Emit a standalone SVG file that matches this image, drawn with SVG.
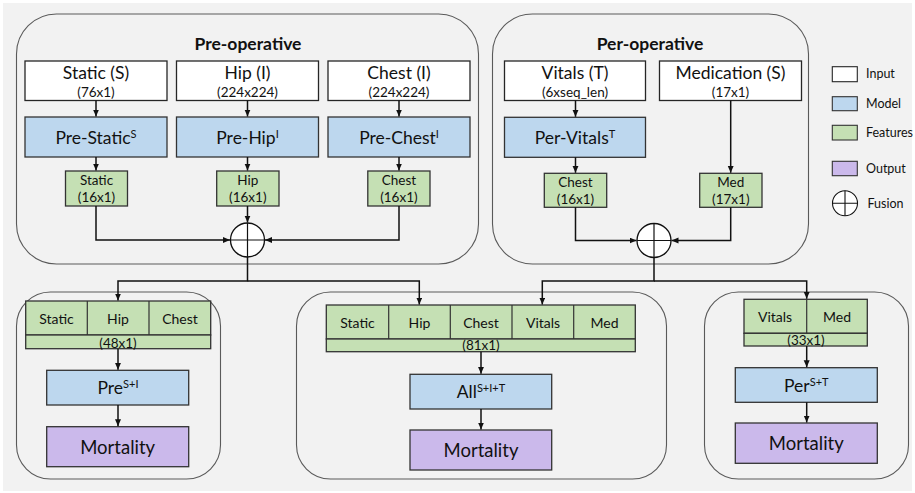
<svg xmlns="http://www.w3.org/2000/svg" width="915" height="493" viewBox="0 0 915 493">
<defs>
<marker id="ah" markerUnits="userSpaceOnUse" markerWidth="8" markerHeight="7" refX="7" refY="3" orient="auto">
<path d="M0,0 L7,3 L0,6 z" fill="#111"/>
</marker>
<style>
text{font-family:Lato,"Liberation Sans",sans-serif;fill:#111;text-anchor:middle}
.panel{fill:none;stroke:#5a5a5a;stroke-width:1.1}
.inp{fill:#fff;stroke:#262626;stroke-width:1.3}
.mod{fill:#bdd7ee;stroke:#333;stroke-width:1.3}
.feat{fill:#c5e0b4;stroke:#333;stroke-width:1.3}
.out{fill:#cbb9eb;stroke:#333;stroke-width:1.3}
.fus{fill:#fff;stroke:#111;stroke-width:1.3}
.cross{stroke:#111;stroke-width:1.2}
.big{font-size:17.5px}
.mort{font-size:18.5px}
.title{font-size:17.5px;font-weight:bold}
.dim{font-size:13.5px}
.ft{font-size:13.5px}
.cell{font-size:14px}
.leg{font-size:12.5px;text-anchor:start}
.sup{font-size:11px}
.conn path{fill:none;stroke:#111;stroke-width:1.5}
</style>
</defs>
<rect x="3" y="3" width="909" height="488" fill="#f2f2f2"/>

<g id="panel-pre"><rect class="panel" x="16.5" y="14" width="462" height="250" rx="40"/><text class="title" x="248" y="50">Pre-operative</text></g>
<g id="panel-per"><rect class="panel" x="492.5" y="14" width="316" height="250" rx="40"/><text class="title" x="650" y="50">Per-operative</text></g>
<g id="panel-pre-fused"><rect class="panel" x="16.5" y="292" width="204" height="187" rx="34"/></g>
<g id="panel-all-fused"><rect class="panel" x="296.5" y="292" width="370" height="187" rx="34"/></g>
<g id="panel-per-fused"><rect class="panel" x="704.5" y="292" width="204" height="187" rx="34"/></g>

<g id="in-static"><rect class="inp" x="25" y="61" width="142" height="39.5"/><text class="big" x="96" y="79">Static (S)</text><text class="dim" x="96" y="97">(76x1)</text></g>
<g id="in-hip"><rect class="inp" x="176.5" y="61" width="142" height="39.5"/><text class="big" x="247.5" y="79">Hip (I)</text><text class="dim" x="247.5" y="97">(224x224)</text></g>
<g id="in-chest"><rect class="inp" x="328" y="61" width="142" height="39.5"/><text class="big" x="399" y="79">Chest (I)</text><text class="dim" x="399" y="97">(224x224)</text></g>
<g id="in-vitals"><rect class="inp" x="504.5" y="61" width="141" height="39.5"/><text class="big" x="575" y="79">Vitals (T)</text><text class="dim" x="575" y="97">(6xseq_len)</text></g>
<g id="in-med"><rect class="inp" x="659.5" y="61" width="142" height="39.5"/><text class="big" x="730.5" y="79">Medication (S)</text><text class="dim" x="730.5" y="97">(17x1)</text></g>

<g id="m-prestatic"><rect class="mod" x="25" y="117" width="142" height="40"/><text class="big" x="96" y="143.5">Pre-Static<tspan class="sup" dy="-6">S</tspan></text></g>
<g id="m-prehip"><rect class="mod" x="176.5" y="117" width="142" height="40"/><text class="big" x="247.5" y="143.5">Pre-Hip<tspan class="sup" dy="-6">I</tspan></text></g>
<g id="m-prechest"><rect class="mod" x="328" y="117" width="142" height="40"/><text class="big" x="399" y="143.5">Pre-Chest<tspan class="sup" dy="-6">I</tspan></text></g>
<g id="m-pervitals"><rect class="mod" x="504.5" y="117.3" width="141" height="40"/><text class="big" x="575" y="143.8">Per-Vitals<tspan class="sup" dy="-6">T</tspan></text></g>

<g id="f-static"><rect class="feat" x="65.5" y="171" width="62" height="35"/><text class="ft" x="96.5" y="184.5">Static</text><text class="ft" x="96.5" y="202.3">(16x1)</text></g>
<g id="f-hip"><rect class="feat" x="216.7" y="171" width="62.3" height="35"/><text class="ft" x="247.8" y="184.5">Hip</text><text class="ft" x="247.8" y="202.3">(16x1)</text></g>
<g id="f-chest"><rect class="feat" x="367.8" y="171" width="62.2" height="35"/><text class="ft" x="398.9" y="184.5">Chest</text><text class="ft" x="398.9" y="202.3">(16x1)</text></g>
<g id="f-vchest"><rect class="feat" x="544.3" y="173.3" width="62.4" height="34"/><text class="ft" x="575.5" y="186.5">Chest</text><text class="ft" x="575.5" y="204.3">(16x1)</text></g>
<g id="f-med"><rect class="feat" x="699.7" y="173.3" width="62.3" height="34"/><text class="ft" x="730.8" y="186.5">Med</text><text class="ft" x="730.8" y="204.3">(17x1)</text></g>

<g id="fusion-pre"><circle class="fus" cx="247.5" cy="240" r="17"/><path class="cross" d="M230.5 240H264.5M247.5 223V257"/></g>
<g id="fusion-per"><circle class="fus" cx="654" cy="240.5" r="17"/><path class="cross" d="M637 240.5H671M654 223.5V257.5"/></g>

<g id="fused-pre">
<rect class="feat" x="25.7" y="301" width="185" height="34"/><rect class="feat" x="25.7" y="335" width="185" height="13.7"/>
<path class="cross" d="M87.3 301V335M149 301V335" style="stroke:#333"/>
<text class="cell" x="56.5" y="323.5">Static</text><text class="cell" x="118" y="323.5">Hip</text><text class="cell" x="180" y="323.5">Chest</text>
<text class="ft" x="118" y="347.5">(48x1)</text>
</g>
<g id="model-pre"><rect class="mod" x="46.7" y="370.3" width="142" height="34.7"/><text class="big" x="118" y="394">Pre<tspan class="sup" dy="-6">S+I</tspan></text></g>
<g id="out-pre"><rect class="out" x="46.7" y="426.7" width="142" height="40"/><text class="mort" x="117.7" y="453.5">Mortality</text></g>

<g id="fused-all">
<rect class="feat" x="326.3" y="305" width="309" height="34"/><rect class="feat" x="326.3" y="339" width="309" height="12.7"/>
<path class="cross" d="M388.7 305V339M450.3 305V339M512 305V339M573.7 305V339" style="stroke:#333"/>
<text class="cell" x="357.5" y="327.5">Static</text><text class="cell" x="419.5" y="327.5">Hip</text><text class="cell" x="481" y="327.5">Chest</text><text class="cell" x="543" y="327.5">Vitals</text><text class="cell" x="604.5" y="327.5">Med</text>
<text class="ft" x="481" y="350">(81x1)</text>
</g>
<g id="model-all"><rect class="mod" x="410" y="374.3" width="141.7" height="34.7"/><text class="big" x="481" y="398.3">All<tspan class="sup" dy="-6">S+I+T</tspan></text></g>
<g id="out-all"><rect class="out" x="410" y="430" width="141.7" height="40"/><text class="mort" x="481" y="456.7">Mortality</text></g>

<g id="fused-per">
<rect class="feat" x="744" y="299.3" width="123.3" height="34"/><rect class="feat" x="744" y="333.3" width="123.3" height="12.7"/>
<path class="cross" d="M806.7 299.3V333.3" style="stroke:#333"/>
<text class="cell" x="775" y="321.5">Vitals</text><text class="cell" x="837" y="321.5">Med</text>
<text class="ft" x="806" y="344.5">(33x1)</text>
</g>
<g id="model-per"><rect class="mod" x="735.3" y="367.7" width="142" height="34.6"/><text class="big" x="806.3" y="391.5">Per<tspan class="sup" dy="-6">S+T</tspan></text></g>
<g id="out-per"><rect class="out" x="735.3" y="423" width="142" height="40.3"/><text class="mort" x="806.3" y="449.5">Mortality</text></g>

<g id="legend">
<rect class="inp" x="832.3" y="66.7" width="25" height="15" style="stroke-width:1.1"/><text class="leg" x="866" y="78">Input</text>
<rect class="mod" x="832.3" y="96.7" width="25" height="14" style="stroke-width:1.1"/><text class="leg" x="866" y="108">Model</text>
<rect class="feat" x="832.3" y="125.3" width="25" height="14.7" style="stroke-width:1.1"/><text class="leg" x="866" y="137">Features</text>
<rect class="out" x="832.3" y="161.3" width="25" height="14.4" style="stroke-width:1.1"/><text class="leg" x="866" y="173">Output</text>
<circle class="fus" cx="845" cy="203.3" r="12.5" style="stroke-width:1.1"/><path class="cross" d="M832.5 203.3H857.5M845 190.8V215.8" style="stroke-width:1.1"/><text class="leg" x="867.5" y="207.5">Fusion</text>
</g>

<g id="connectors" class="conn">
<path d="M96 100.5V116.5" marker-end="url(#ah)"/>
<path d="M247.5 100.5V116.5" marker-end="url(#ah)"/>
<path d="M399 100.5V116.5" marker-end="url(#ah)"/>
<path d="M575.5 100.5V116.8" marker-end="url(#ah)"/>
<path d="M96 157V170.5" marker-end="url(#ah)"/>
<path d="M247.5 157V170.5" marker-end="url(#ah)"/>
<path d="M399 157V170.5" marker-end="url(#ah)"/>
<path d="M575.5 157.3V172.8" marker-end="url(#ah)"/>
<path d="M730.7 100.5V172.8" marker-end="url(#ah)"/>
<path d="M96 206V240H230" marker-end="url(#ah)"/>
<path d="M247.5 206V222.5" marker-end="url(#ah)"/>
<path d="M399 206V240H265" marker-end="url(#ah)"/>
<path d="M575.5 207.3V240.5H636.5" marker-end="url(#ah)"/>
<path d="M730.7 207.3V240.5H671.5" marker-end="url(#ah)"/>
<path d="M247.5 257V281H118V300.5" marker-end="url(#ah)"/>
<path d="M247.5 281H419.3V304.5" marker-end="url(#ah)"/>
<path d="M654 257.5V281H542.3V304.5" marker-end="url(#ah)"/>
<path d="M654 281H806.7V298.8" marker-end="url(#ah)"/>
<path d="M118 348.7V369.8" marker-end="url(#ah)"/>
<path d="M118 405V426.2" marker-end="url(#ah)"/>
<path d="M481 351.7V373.8" marker-end="url(#ah)"/>
<path d="M481 409V429.5" marker-end="url(#ah)"/>
<path d="M806.7 346V367.2" marker-end="url(#ah)"/>
<path d="M806.7 402.3V422.5" marker-end="url(#ah)"/>
</g>
</svg>
